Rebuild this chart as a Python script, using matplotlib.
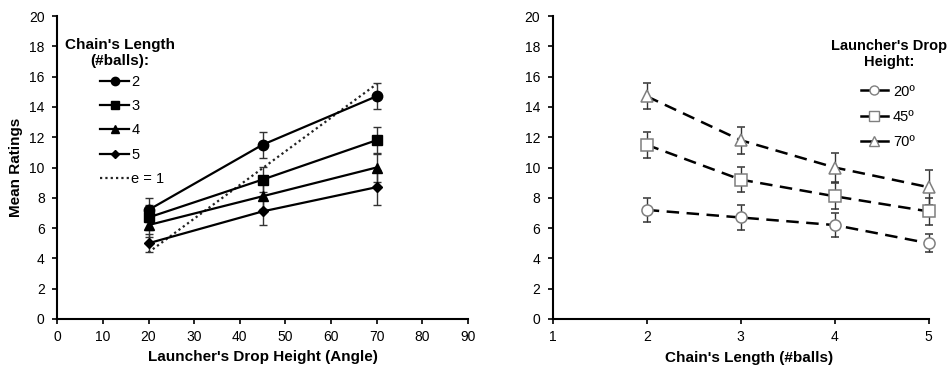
import matplotlib
matplotlib.use("Agg")
import matplotlib.pyplot as plt
from matplotlib.lines import Line2D

plt.rcParams['font.family'] = ['Liberation Sans', 'DejaVu Sans']

# ---- data ----
heights = [20, 45, 70]
chains = [2, 3, 4, 5]
chain_labels = ['2', '3', '4', '5']
height_labels = ['20º', '45º', '70º']

# mean ratings [chain][height]
means = [
    [7.2, 11.5, 14.7],   # 2 balls
    [6.7, 9.2, 11.8],    # 3 balls
    [6.2, 8.1, 10.0],    # 4 balls
    [5.0, 7.1, 8.7],     # 5 balls
]
errs = [
    [0.8, 0.85, 0.85],
    [0.8, 0.85, 0.9],
    [0.8, 0.85, 0.95],
    [0.6, 0.9, 1.15],
]
e1_x = [20, 70]
e1_y = [4.4, 15.5]

left_markers = ['o', 's', '^', 'D']
left_msizes = [7.5, 7, 7.5, 5.5]
left_leg_ms = [6, 5.2, 6, 4.5]
right_markers = ['o', 's', '^']

fig = plt.figure(figsize=(9.48, 3.7), dpi=100)
W, H = 948, 370

def fx(px):
    return px / W

def fy(py):
    return 1 - py / H

axL = fig.add_axes([fx(57.3), fy(319), fx(467.7) - fx(57.3), fy(16) - fy(319)])
axR = fig.add_axes([fx(552.7), fy(319), fx(928.7) - fx(552.7), fy(16) - fy(319)])

tick_fs = 10
lab_fs = 11
for ax in (axL, axR):
    for s in ('top', 'right'):
        ax.spines[s].set_visible(False)
    for s in ('left', 'bottom'):
        ax.spines[s].set_linewidth(1.5)
        ax.spines[s].set_color('black')
    ax.tick_params(direction='out', length=3.6, width=1.2, labelsize=tick_fs, colors='black')
    ax.tick_params(axis='y', pad=5.5)
    ax.tick_params(axis='x', pad=4.5)
    ax.set_ylim(0, 20)
    ax.set_yticks(range(0, 21, 2))

def noclip(container):
    for art in container.get_children():
        art.set_clip_on(False)

# ---- left panel ----
ecol = '#333333'
for i, c in enumerate(chains):
    cont = axL.errorbar(heights, means[i], yerr=errs[i], color='black', lw=1.6,
                        marker=left_markers[i], ms=left_msizes[i], mfc='black', mec='black',
                        ecolor=ecol, elinewidth=1, capsize=3, capthick=1, zorder=3)
    noclip(cont)
axL.plot(e1_x, e1_y, color='#222222', lw=1.6, ls=(0, (1, 1.4)), zorder=2)
axL.set_xlim(0, 90)
axL.set_xticks(range(0, 91, 10))
axL.set_xlabel("Launcher's Drop Height (Angle)", fontsize=lab_fs, fontweight='bold', labelpad=4)
axL.set_ylabel("Mean Ratings", fontsize=lab_fs, fontweight='bold', labelpad=4)

handlesL = [Line2D([], [], color='black', lw=1.6, marker=left_markers[i], ms=left_leg_ms[i],
                   mfc='black', mec='black') for i in range(4)]
handlesL.append(Line2D([], [], color='#222222', lw=1.6, ls=(0, (1, 1.4))))
fig.legend(handlesL, chain_labels + ['e = 1'], loc='upper left',
           bbox_to_anchor=(fx(100), fy(75)), bbox_transform=fig.transFigure,
           frameon=False, fontsize=10.5, handlelength=2.0, handletextpad=0.15,
           labelspacing=0.70, borderpad=0, borderaxespad=0)
fig.text(fx(120), fy(53), "Chain's Length\n(#balls):", ha='center', va='center',
         fontsize=11, fontweight='bold', linespacing=1.2)

# ---- right panel ----
gray = '#7f7f7f'
for j, h in enumerate(heights):
    ys = [means[i][j] for i in range(4)]
    es = [errs[i][j] for i in range(4)]
    cont = axR.errorbar(chains, ys, yerr=es, color='black', lw=1.8, dashes=(5, 3),
                        marker=right_markers[j], ms=8, mfc='white', mec=gray, mew=1.1,
                        ecolor=ecol, elinewidth=1, capsize=3, capthick=1, zorder=3)
    noclip(cont)
axR.set_xlim(1, 5)
axR.set_xticks([1, 2, 3, 4, 5])
axR.set_xlabel("Chain's Length (#balls)", fontsize=lab_fs, fontweight='bold', labelpad=4)
axR.xaxis.set_label_coords(0.523, -0.1)
axR.xaxis.label.set_va('center')
axR.xaxis.set_label_coords(0.523, -(358 - 319) / (319 - 16))

handlesR = [Line2D([], [], color='black', lw=1.8, marker=right_markers[j], ms=6.5,
                   mfc='white', mec=gray, mew=1.0) for j in range(3)]
fig.legend(handlesR, height_labels, loc='upper left',
           bbox_to_anchor=(fx(861), fy(84.5)), bbox_transform=fig.transFigure,
           frameon=False, fontsize=10.5, handlelength=1.85, handletextpad=0.35,
           labelspacing=0.78, borderpad=0, borderaxespad=0)
fig.text(fx(889), fy(54), "Launcher's Drop\nHeight:", ha='center', va='center',
         fontsize=10.5, fontweight='bold', linespacing=1.15)

fig.savefig('out.png', dpi=100)
